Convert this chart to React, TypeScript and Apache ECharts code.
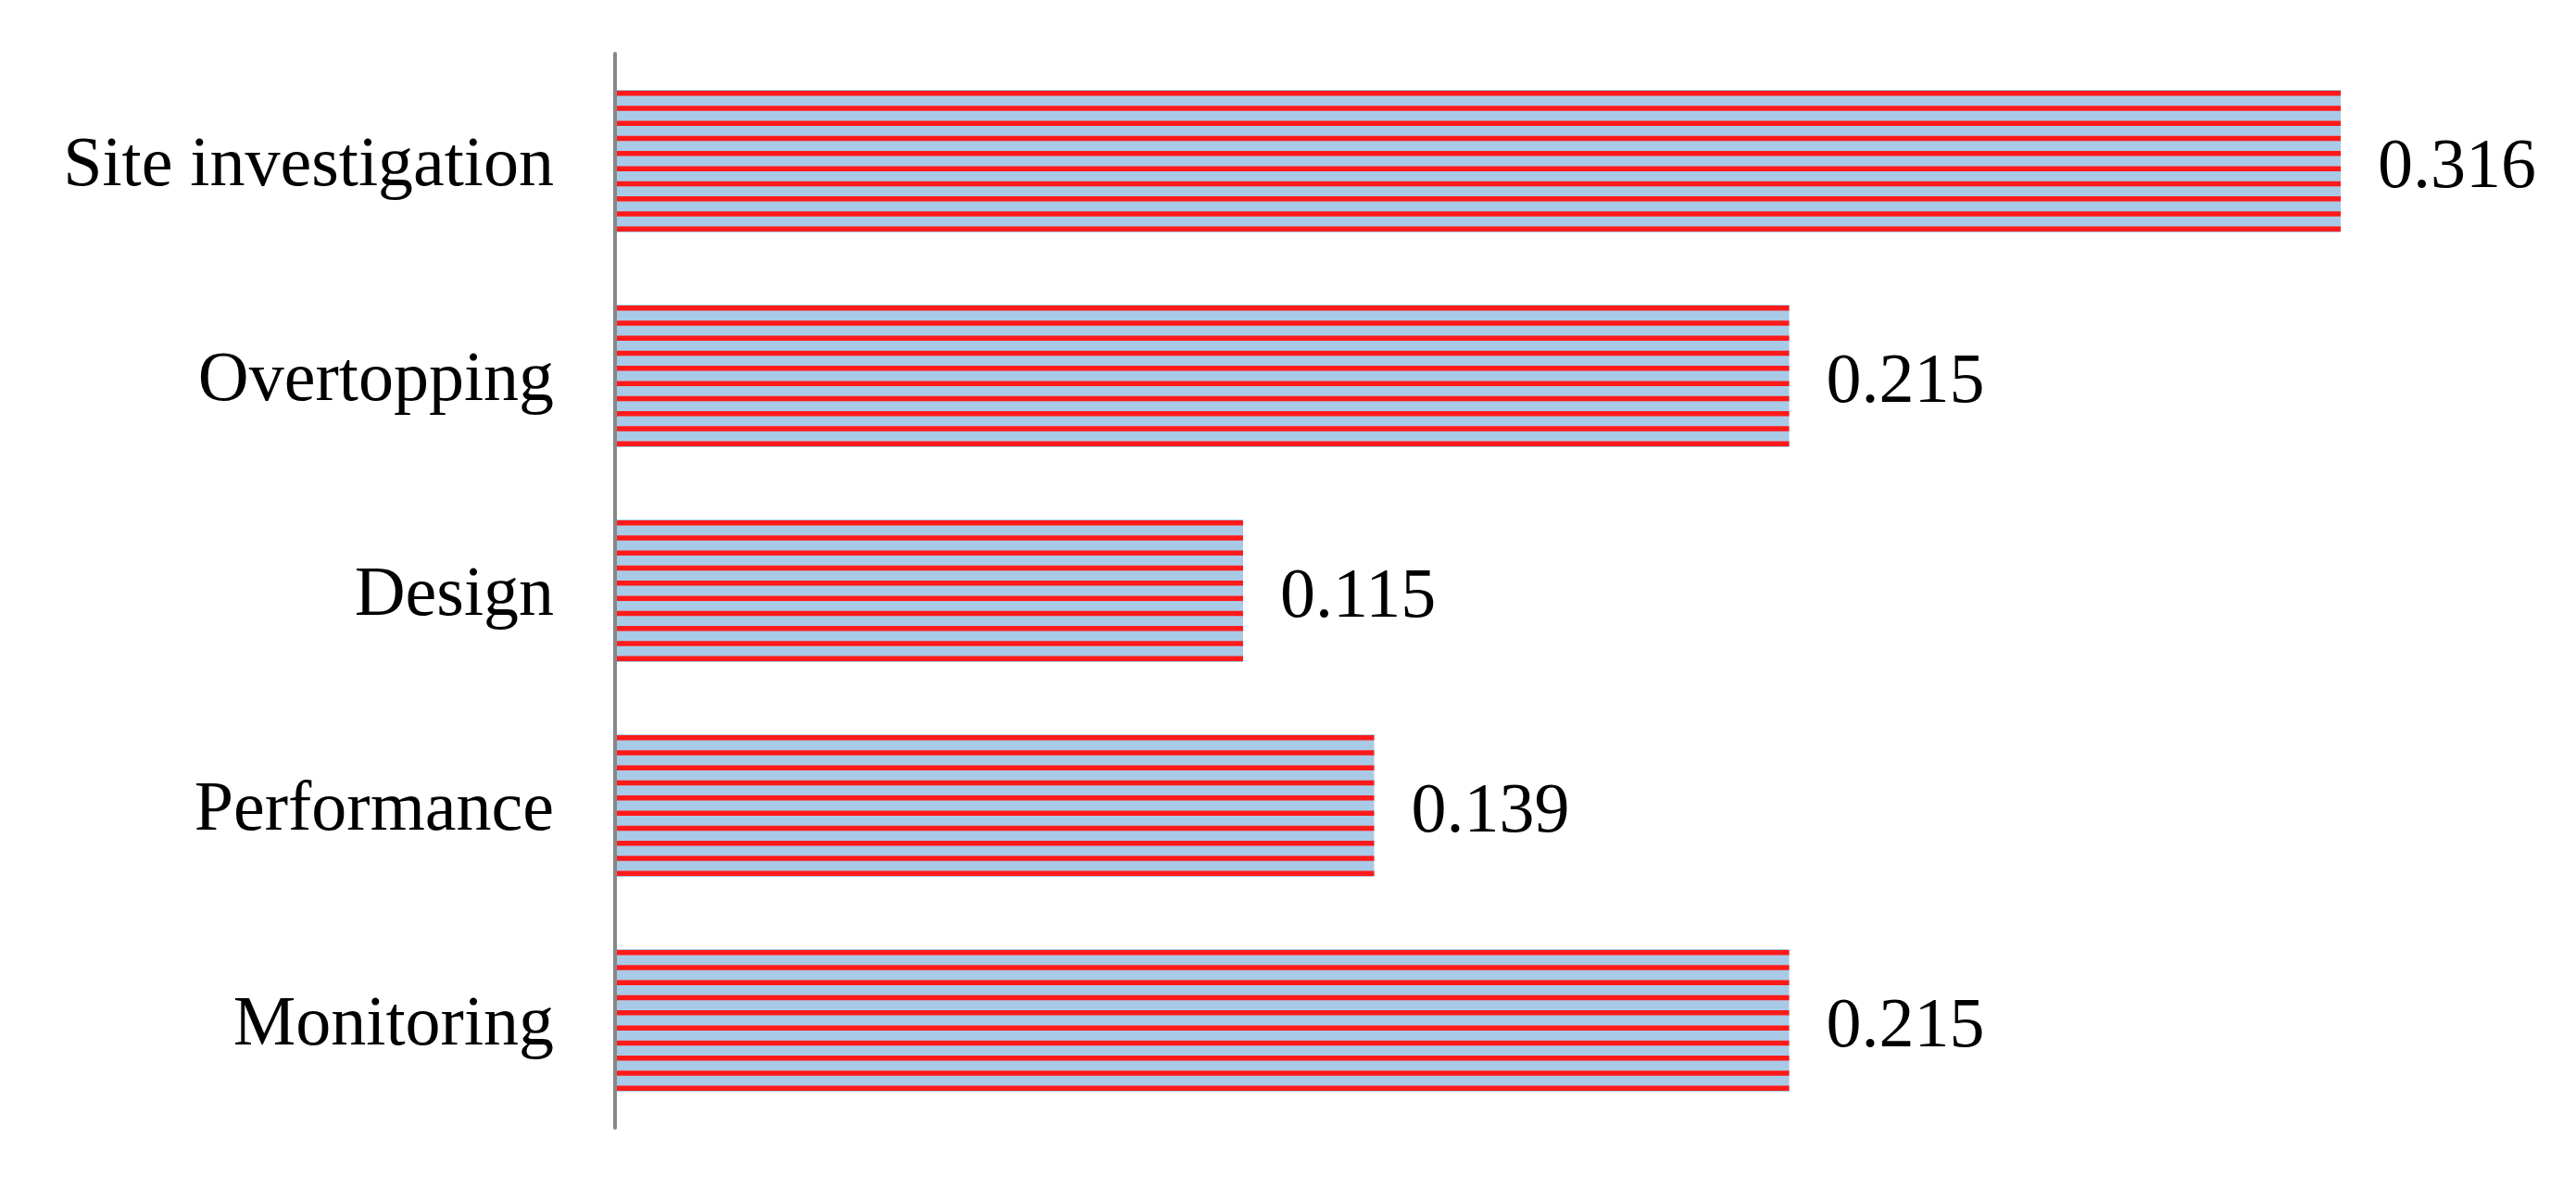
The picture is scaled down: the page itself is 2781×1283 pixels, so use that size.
import React, { useEffect, useRef } from "react";
import * as echarts from "echarts";

const categories = ["Site investigation", "Overtopping", "Design", "Performance", "Monitoring"];
const weights = [0.316, 0.215, 0.115, 0.139, 0.215];

const STRIPES = 10;

export default function App() {
  const ref = useRef<HTMLDivElement>(null);
  useEffect(() => {
    if (!ref.current) return;
    const chart = echarts.init(ref.current, null, { renderer: "svg" });
    const data = weights.map((v, i) => [v, i]);
    chart.setOption({
      animation: false,
      backgroundColor: "#ffffff",
      grid: { left: 664, right: 254, top: 58, bottom: 65, containLabel: false },
      xAxis: { type: "value", min: 0, max: 0.316, show: false },
      yAxis: {
        type: "category",
        data: categories,
        inverse: true,
        axisLine: { show: true, lineStyle: { color: "#878787", width: 4 } },
        axisTick: { show: false },
        splitLine: { show: false },
        axisLabel: {
          fontSize: 76,
          fontFamily: "Liberation Serif",
          color: "#000000",
          margin: 66,
        },
      },
      series: [
        {
          type: "custom",
          encode: { x: 0, y: 1 },
          data,
          z: 1,
          renderItem: (params: any, api: any) => {
            const v = api.value(0);
            const c = api.value(1);
            const start = api.coord([0, c]);
            const end = api.coord([v, c]);
            const h = api.size([0, 1])[1] * 0.664;
            const top = start[1] - h / 2;
            const x0 = start[0] + 2;
            const w = end[0] - x0;
            const children: any[] = [
              {
                type: "rect",
                shape: { x: x0, y: top, width: w, height: h },
                style: { fill: "#a9cae6" },
              },
            ];
            const sh = 5.5;
            const step = (h - sh - 2) / (STRIPES - 1);
            for (let i = 0; i < STRIPES; i++) {
              children.push({
                type: "rect",
                shape: { x: x0, y: top + 1 + i * step, width: w, height: sh },
                style: { fill: "#ff1a1a" },
              });
            }
            children.push({
              type: "text",
              style: {
                text: v.toFixed(3),
                x: end[0] + 40,
                y: start[1] + 2,
                verticalAlign: "middle",
                align: "left",
                font: '76px "Liberation Serif"',
                fill: "#000000",
              },
            });
            return { type: "group", children };
          },
        },
      ],
    });
    return () => chart.dispose();
  }, []);
  return (
    <div
      ref={ref}
      style={{ position: "absolute", left: 0, top: 0, width: 2781, height: 1283, background: "#fff" }}
    />
  );
}
